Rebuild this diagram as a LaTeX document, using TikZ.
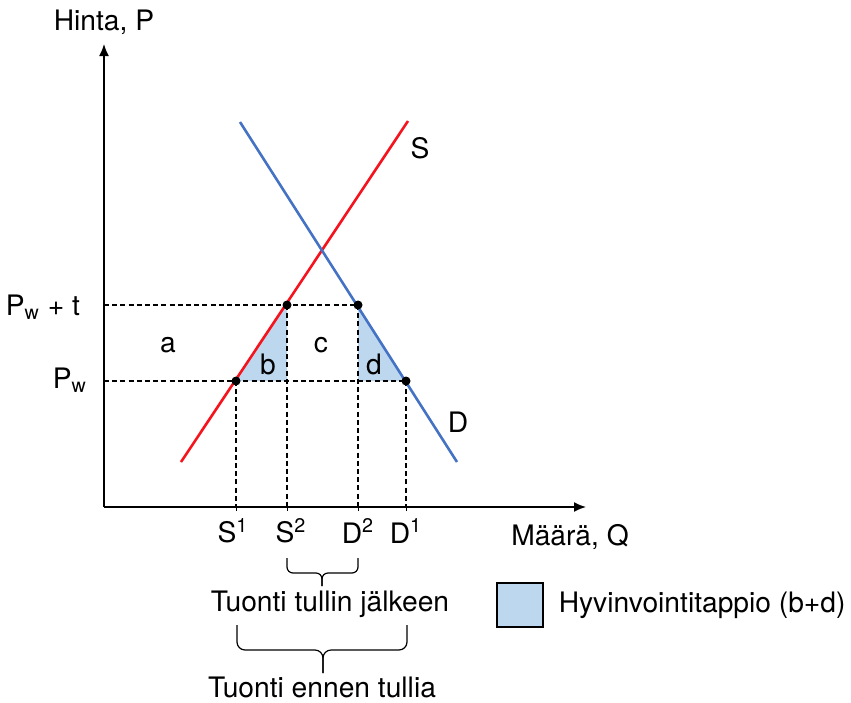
\documentclass[tikz,border=0pt]{standalone}
\usepackage{fontspec}
\setmainfont{TeX Gyre Heros}
\usetikzlibrary{arrows.meta,positioning,calc}
\definecolor{supplyred}{HTML}{F5141E}
\definecolor{demandblue}{HTML}{4472C4}
\definecolor{lossblue}{HTML}{BDD7EE}

\begin{document}
\begin{tikzpicture}[
    x=0.5pt, y=-0.5pt,
    every node/.style={font=\fontsize{14.1}{16.5}\selectfont},
    axisline/.style={
        line width=0.8pt,
        -{Latex[length=6pt,width=5pt]}
    },
    guide/.style={
        line width=0.6pt,
        dash pattern=on 2.5pt off 1.6pt
    },
    curve/.style={
        line width=1.3pt
    },
    dot/.style={
        circle,
        fill,
        inner sep=0pt,
        minimum size=4.5pt
    },
    curly/.style={
        line width=0.6pt,
        rounded corners=#1
    }
]
\useasboundingbox (0,0) rectangle (851,702);

% axes
\coordinate (O) at (104,507);
\coordinate (ytop) at (104,44);
\coordinate (xend) at (586,507);

% market points
\coordinate (s1) at (236,381);
\coordinate (s2) at (287,305);
\coordinate (d2) at (358,305);
\coordinate (d1) at (406,381);

% welfare loss triangles
\fill[lossblue] (s1) -- (s2) -- (s2 |- s1) -- cycle;
\fill[lossblue] (d2) -- (d1) -- (d2 |- d1) -- cycle;

% price levels
\draw[guide] (O |- s2) -- (d2);
\draw[guide] (O |- s1) -- (d1);
\foreach \p in {s1,s2,d2,d1} {
    \draw[guide] (\p) -- (\p |- O);
    \draw[line width=0.5pt] ($(\p |- O)+(0,-3)$) -- ($(\p |- O)+(0,4)$);
}

\draw[axisline] (O) -- (ytop);
\draw[axisline] (O) -- (xend);
\node (ylabel) at (104,22) {Hinta, P};
\node (xlabel) at (570,537) {Määrä, Q};

% supply and demand
\coordinate (Slow) at (181,462);
\coordinate (Shigh) at (408,121);
\coordinate (Dhigh) at (240,122);
\coordinate (Dlow) at (457,462);
\draw[curve, supplyred] (Slow) -- (Shigh);
\draw[curve, demandblue] (Dhigh) -- (Dlow);
\node (slabel) at (420,148) {S};
\node (dlabel) at (458,422) {D};

\foreach \p in {s1,s2,d2,d1}
    \node[dot] at (\p) {};

% price labels
\node[anchor=base east] (pwt) at ($(O |- s2)+(-17,10)$) {P\textsubscript{w} + t};
\node[anchor=base east] (pw) at ($(O |- s1)+(-10,7)$) {P\textsubscript{w}};

% areas
\node (areaA) at (168,345) {a};
\node (areaB) at (268,364) {b};
\node (areaC) at (321,345) {c};
\node (areaD) at (374,364) {d};

% quantity labels
\node (ls1) at ($(s1 |- O)+(-3,24)$) {S\textsuperscript{1}};
\node (ls2) at ($(s2 |- O)+(4,24)$) {S\textsuperscript{2}};
\node (ld2) at ($(d2 |- O)+(0,24)$) {D\textsuperscript{2}};
\node (ld1) at ($(d1 |- O)+(0,24)$) {D\textsuperscript{1}};

% Brace: imports after tariff
\coordinate (b1mid) at (322,573);
\coordinate (b1tip) at (322,586);
\draw[curly=3pt] ($(s2 |- O)+(0,51)$) |- (b1mid) -- (b1tip);
\draw[curly=3pt] ($(d2 |- O)+(0,51)$) |- (b1mid) -- (b1tip);
\node (after) at (330,604) {Tuonti tullin jälkeen};

% Brace: imports before tariff
\coordinate (b2mid) at (323,650);
\coordinate (b2tip) at (323,673);
\draw[curly=4pt] ($(s1 |- O)+(1,118)$) |- (b2mid) -- (b2tip);
\draw[curly=4pt] ($(d1 |- O)+(1,118)$) |- (b2mid) -- (b2tip);
\node (before) at (322,687) {Tuonti ennen tullia};

% legend
\node[draw, line width=0.7pt, fill=lossblue, minimum width=23pt, minimum height=22pt, inner sep=0pt] (legend) at (520,605) {};
\node[right=4pt of legend] (legendtext) {Hyvinvointitappio (b+d)};

\end{tikzpicture}
\end{document}
